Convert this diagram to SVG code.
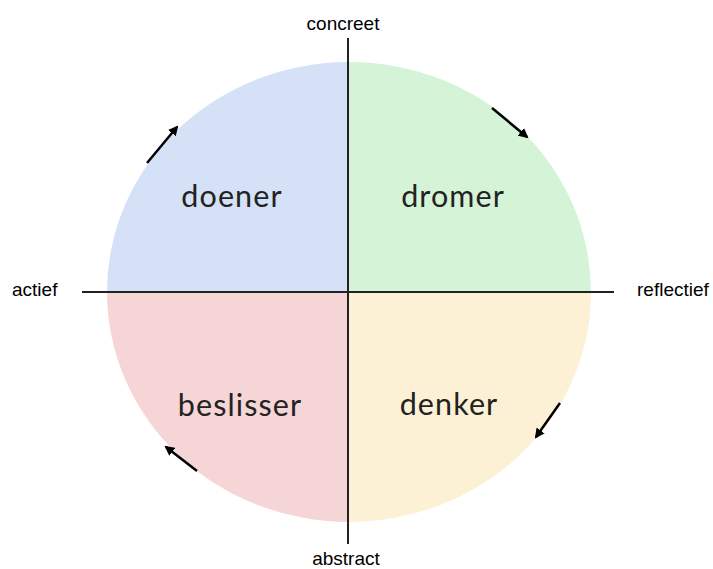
<svg xmlns="http://www.w3.org/2000/svg" width="713" height="569" viewBox="0 0 713 569">
<style>
.q{stroke:none}
.lbl{font-family:Lato,"Open Sans","Liberation Sans",sans-serif;font-size:30.5px;letter-spacing:1.1px;fill:#222;text-anchor:middle}
.ax{font-family:"Liberation Sans",Arial,sans-serif;font-size:19px;fill:#000}
.axis{stroke:#222;stroke-width:2;fill:none}
.arr{stroke:#000;stroke-width:2.5;fill:none;marker-end:url(#ah)}
</style>
<defs>
<marker id="ah" viewBox="0 0 10 10" refX="8" refY="5" markerWidth="4" markerHeight="4" orient="auto" markerUnits="strokeWidth">
<path d="M0,0 L10,5 L0,10 z" fill="#000"/>
</marker>
</defs>
<rect width="713" height="569" fill="#fff"/>
<g id="doener">
<path class="q" d="M349,292 L107,292 A242,230 0 0 1 349,62 Z" fill="#d5e1f7"/>
<text class="lbl" x="232" y="207">doener</text>
</g>
<g id="dromer">
<path class="q" d="M349,292 L349,62 A242,230 0 0 1 591,292 Z" fill="#d5f4d7"/>
<text class="lbl" x="453" y="207">dromer</text>
</g>
<g id="denker">
<path class="q" d="M349,292 L591,292 A242,230 0 0 1 349,522 Z" fill="#fdf1d5"/>
<text class="lbl" x="449" y="415">denker</text>
</g>
<g id="beslisser">
<path class="q" d="M349,292 L349,522 A242,230 0 0 1 107,292 Z" fill="#f5d5d5"/>
<text class="lbl" x="240" y="416">beslisser</text>
</g>
<g id="connectors">
<line class="axis" x1="348" y1="38" x2="348" y2="544"/>
<line class="axis" x1="82" y1="292" x2="614" y2="292"/>
<line class="arr" x1="147" y1="163" x2="177" y2="127"/>
<line class="arr" x1="492" y1="108" x2="527" y2="137"/>
<line class="arr" x1="560" y1="403" x2="536" y2="437"/>
<line class="arr" x1="197" y1="471" x2="166" y2="447"/>
</g>
<g id="axis-labels">
<text class="ax" x="343" y="30" text-anchor="middle">concreet</text>
<text class="ax" x="12" y="296">actief</text>
<text class="ax" x="637" y="296">reflectief</text>
<text class="ax" x="346" y="565" text-anchor="middle">abstract</text>
</g>
</svg>
